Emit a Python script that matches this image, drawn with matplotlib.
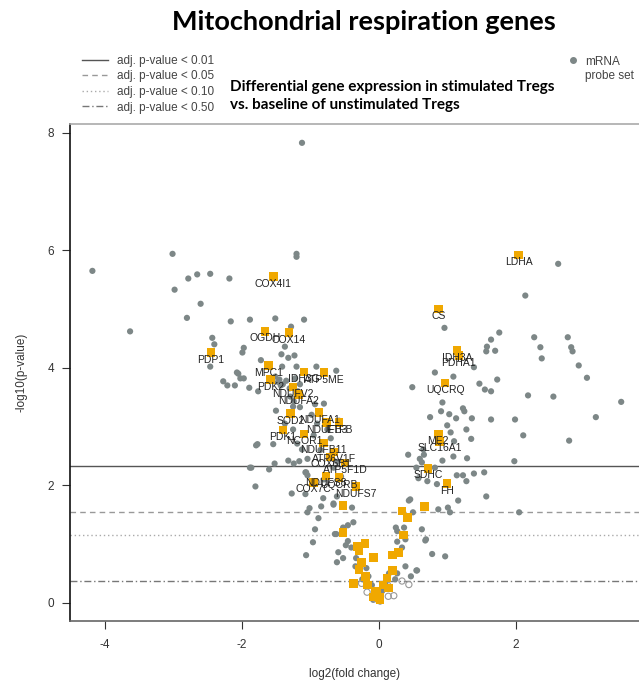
import numpy as np
import matplotlib
matplotlib.use("Agg")
import matplotlib.pyplot as plt
from matplotlib.lines import Line2D

plt.rcParams['font.family'] = ['Liberation Sans', 'DejaVu Sans']
plt.rcParams['axes.unicode_minus'] = False

# probe sets (log2 fold change, -log10 p)
gray_x = [-4.18, -3.01, -2.98, -2.78, -2.65, -2.46, -2.18, -2.60, -1.12, -1.20, -1.20,
          -2.80, -3.63, -2.16, -1.88, -2.43, -2.40, -2.46, -1.97, -1.99, -2.05, -2.02,
          -1.97, -2.27, -2.21, -2.10, -1.89, -1.51, -1.09, -1.28, -1.37, -1.42, -1.32,
          -1.23, -1.72, -1.20, -0.91, -0.62, -2.07, -1.41, -1.76, -1.51, -1.45, -1.40,
          -1.22, -1.15, -1.29, -1.24, -1.50, -1.25, -1.15, -1.37, -1.25, -1.77, -1.54,
          -1.19, -1.12, -1.32, -1.04, -1.88, -1.60, -1.06, -1.80, -0.80, -0.93,
          -1.47, -1.43, -1.35, -1.30, -1.18, -0.98, -0.90, -0.75, -0.70, -0.95, -0.85,
          -0.72, -0.60, -0.66, -0.55, -0.80, -0.58,
          -1.79, -1.86, -1.52, -1.24, -1.16, -1.07, -1.04, -1.27, -1.07, -0.81, -0.61,
          -0.84, -0.66, -0.39, -1.01, -1.04, -0.88, -0.93, -0.96, -1.06, -0.62, -0.52,
          -0.45, -0.37, -0.59, -0.52, -0.61, -0.48, -0.66, -0.64, -0.45, -0.33, -0.40,
          -0.34, -0.18, -0.24,
          -0.10, -0.05, 0.05, 0.10, -0.15, 0.15, -0.08, 0.02,
          0.24, 0.27, 0.39, 0.55, 0.47, 0.27, 0.39, 0.27, 0.44, 0.63, 0.68, 0.78,
          0.25, 0.37, 0.27, 0.34, 0.69, 0.97, 0.56, 0.46, 0.50, 0.87, 1.01, 1.04,
          2.05, 1.57, 1.16,
          0.43, 0.66, 0.63, 0.93, 1.09, 1.29, 0.82, 1.98, 0.58, 0.71, 0.85, 1.14,
          1.23, 1.28, 1.39, 1.54, 0.65, 0.55, 0.60,
          2.62, 2.14, 0.96, 1.76, 1.64, 1.58, 1.57, 1.70, 2.27, 2.76, 2.36, 2.81,
          2.83, 2.38, 1.39, 0.82, 1.09, 2.92, 3.04, 1.73, 1.47, 0.49, 1.55, 1.64,
          2.18, 2.55, 3.54, 0.93, 1.23, 1.25, 0.91, 1.03, 0.75, 1.13, 1.36, 1.64,
          1.99, 3.17, 1.00, 1.28, 2.11, 2.78, 1.35, 1.05, 1.10]
gray_y = [5.65, 5.94, 5.33, 5.52, 5.59, 5.60, 5.52, 5.09, 7.83, 5.94, 5.89,
          4.85, 4.62, 4.79, 4.82, 4.51, 4.40, 4.02, 4.34, 4.26, 3.90, 3.82,
          3.82, 3.77, 3.70, 3.70, 3.66, 4.84, 4.82, 4.70, 4.36, 4.23, 4.17,
          4.21, 4.13, 4.02, 4.02, 3.95, 3.92, 4.02, 3.60, 3.85, 3.80, 3.72,
          3.82, 3.72, 3.51, 3.43, 3.27, 3.34, 3.33, 3.05, 2.95, 2.70, 2.70,
          2.71, 2.61, 2.42, 2.45, 2.30, 2.27, 2.22, 1.98, 3.39, 3.38,
          3.76, 3.70, 3.78, 3.65, 3.60, 3.20, 3.05, 2.95, 2.80, 2.85, 2.60,
          2.50, 2.40, 2.30, 2.15, 2.10, 3.10,
          2.68, 2.30, 2.37, 2.37, 2.41, 2.22, 2.17, 1.86, 1.85, 1.78, 1.81,
          1.64, 1.67, 1.62, 1.61, 1.54, 1.44, 1.25, 1.03, 0.81, 1.17, 1.28,
          1.32, 1.37, 0.86, 0.76, 0.69, 0.98, 1.69, 1.17, 1.05, 0.76, 0.94,
          0.62, 0.59, 0.40,
          0.30, 0.15, 0.20, 0.35, 0.45, 0.50, 0.05, 0.02,
          0.40, 0.50, 0.62, 0.55, 0.45, 0.84, 1.08, 1.22, 1.74, 1.25, 1.06, 0.83,
          1.28, 1.28, 1.04, 0.94, 1.08, 0.79, 0.55, 1.76, 1.54, 1.59, 1.62, 1.54,
          1.54, 1.81, 1.74,
          2.52, 2.52, 2.39, 2.42, 2.49, 2.46, 2.30, 2.41, 2.12, 2.07, 2.02, 2.17,
          2.17, 2.07, 2.20, 2.22, 2.61, 2.30, 2.45,
          5.77, 5.23, 4.68, 4.60, 4.48, 4.36, 4.28, 4.29, 4.52, 4.52, 4.35, 4.35,
          4.28, 4.16, 4.01, 3.92, 3.85, 4.04, 3.83, 3.80, 3.73, 3.67, 3.63, 3.60,
          3.53, 3.51, 3.42, 3.41, 3.31, 3.26, 3.26, 3.21, 3.16, 3.14, 3.14, 3.12,
          3.12, 3.16, 3.02, 2.95, 2.85, 2.76, 2.79, 2.90, 2.75]

# probe sets drawn hollow near the origin
open_x = [-0.25, -0.17, 0.13, 0.14, 0.44, 0.34, -0.05, 0.22]
open_y = [0.33, 0.18, 0.30, 0.11, 0.31, 0.37, 0.07, 0.12]

# respiration genes, labelled
gene_x = [-1.54, -1.66, -1.31, -2.45, -1.61, -1.09, -0.80, -1.58, -1.25, -1.17,
          -1.29, -0.87, -0.76, -0.58, -1.40, -1.09, -0.81, -0.65, -0.70, -0.49,
          -0.77, -0.58, -0.33, -0.95,
          2.04, 0.87, 1.14, 1.17, 0.97, 0.87, 0.89, 0.72, 1.00]
gene_y = [5.55, 4.62, 4.60, 4.26, 4.04, 3.93, 3.92, 3.80, 3.67, 3.55,
          3.22, 3.24, 3.07, 3.07, 2.94, 2.87, 2.72, 2.57, 2.48, 2.38,
          2.16, 2.13, 1.98, 2.05,
          5.92, 5.00, 4.29, 4.21, 3.74, 2.87, 2.75, 2.29, 2.03]
gene_names = ["COX4I1", "OGDH", "COX14", "PDP1", "MPC1", "IDH3G", "ATP5ME", "PDK2",
              "NDUFV2", "NDUFA2", "SOD2", "NDUFA1", "NDUFB3", "ETFB", "PDK1", "NCOR1",
              "NDUFB11", "ATP6V1F", "COX6B1", "ATP5F1D", "NDUFS8", "UQCRB", "NDUFS7",
              "COX7C",
              "LDHA", "CS", "IDH3A", "PDHA1", "UQCRQ", "ME2", "SLC16A1", "SDHC", "FH"]

# respiration genes below the label cut
gene2_x = [-0.52, -0.52, -0.32, -0.20, -0.29, -0.08, -0.25, -0.29, -0.19, -0.37,
           -0.16, -0.05, 0.01, -0.03, 0.14, 0.12, 0.20, 0.20, 0.29, 0.36, 0.42,
           0.34, 0.67, 0.02, -0.08, 0.06]
gene2_y = [1.66, 1.20, 0.96, 1.01, 0.88, 0.77, 0.69, 0.57, 0.45, 0.33,
           0.30, 0.20, 0.09, 0.16, 0.25, 0.42, 0.55, 0.81, 0.86, 1.15, 1.45,
           1.56, 1.64, 0.05, 0.10, 0.30]

# -log10 p at the adjusted p-value cut-offs
cut_levels = [2.32, 1.54, 1.16, 0.37]
cut_names = ["adj. p-value < 0.01", "adj. p-value < 0.05",
             "adj. p-value < 0.10", "adj. p-value < 0.50"]
cut_styles = ["-", (0, (4, 3)), (0, (1, 2)), (0, (5, 2, 1, 2))]
cut_colors = ["#555555", "#999999", "#aaaaaa", "#777777"]

grey = "#7d8787"
orange = "#f0a800"

fig = plt.figure(figsize=(6.39, 6.86), dpi=100)
ax = fig.add_axes([0.1103, 0.0948, 0.8897, 0.7244])

for lev, ls, c in zip(cut_levels, cut_styles, cut_colors):
    ax.axhline(lev, color=c, lw=1.0, linestyle=ls, zorder=1)

ax.scatter(gray_x, gray_y, s=20, color=grey, edgecolors="none", zorder=2)
ax.scatter(open_x, open_y, s=20, facecolors="none", edgecolors="#999999",
           linewidths=0.8, zorder=2)
ax.scatter(gene2_x, gene2_y, s=38, marker="s", color=orange, edgecolors="none", zorder=3)
ax.scatter(gene_x, gene_y, s=38, marker="s", color=orange, edgecolors="none", zorder=3)
for gx, gy, name in zip(gene_x, gene_y, gene_names):
    ax.annotate(name, (gx, gy), xytext=(0, -1.5), textcoords="offset points",
                ha="center", va="top", fontsize=7.5, color="#222222", zorder=4)

ax.set_xlim(-4.5, 3.8)
ax.set_ylim(-0.31, 8.15)
ax.set_xticks([-4, -2, 0, 2])
ax.set_yticks([0, 2, 4, 6, 8])
ax.tick_params(direction="out", length=6, width=0.8, labelsize=8.5, colors="#333333")
ax.tick_params(axis="x", pad=7)
ax.tick_params(axis="y", pad=6)
ax.spines["left"].set_color("#111111")
ax.spines["bottom"].set_color("#666666")
ax.spines["top"].set_color("#aaaaaa")
ax.spines["right"].set_visible(False)
for sp in ("left", "bottom", "top"):
    ax.spines[sp].set_linewidth(1.2)
ax.set_xlabel("log2(fold change)", fontsize=8.5, color="#333333", labelpad=12)
ax.set_ylabel("-log10(p-value)", fontsize=8.5, color="#333333", labelpad=14)

fig.text(0.570, 0.968, "Mitochondrial respiration genes", ha="center", va="center",
         fontsize=19.5, fontweight="bold", family="Lato")
fig.text(0.360, 0.860, "Differential gene expression in stimulated Tregs\n"
         "vs. baseline of unstimulated Tregs", ha="left", va="center",
         fontsize=11, fontweight="bold", family="Lato", linespacing=1.3)

handles = [Line2D([], [], color=c, lw=1.0, linestyle=ls)
           for ls, c in zip(cut_styles, cut_colors)]
fig.legend(handles, cut_names, loc="upper left", bbox_to_anchor=(0.128, 0.920),
           frameon=False, fontsize=8.5, handlelength=2.2, handletextpad=0.8,
           labelspacing=0.3, labelcolor="#444444", borderaxespad=0, borderpad=0)

# probe-set key: dot beside the first text line
fig.add_artist(Line2D([0.897], [0.912], transform=fig.transFigure, marker="o",
                      color=grey, linestyle="none", markersize=4))
fig.text(0.915, 0.885, "mRNA\nprobe set", ha="left", va="baseline", fontsize=8.5,
         color="#444444", linespacing=1.25)

fig.savefig("out.png", dpi=100)
